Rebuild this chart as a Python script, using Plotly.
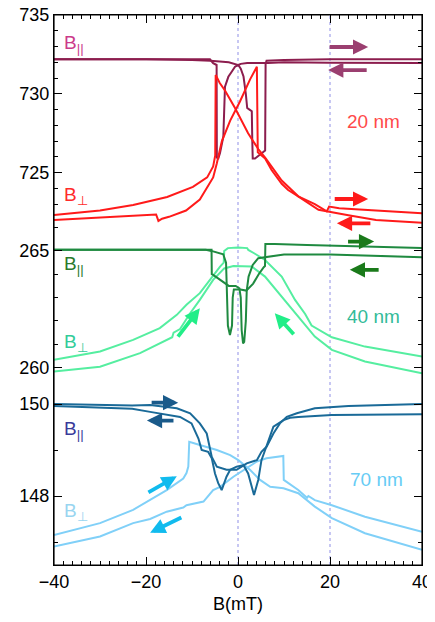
import plotly.graph_objects as go

# ---------------- axes ----------------
x_range = [-40, 40]
x_ticks = [-40, -20, 0, 20, 40]
ref_lines = [0, 20]

top_range = [700.12, 735]
top_major = [725, 730, 735]
top_minor = [723, 724, 726, 727, 728, 729, 731, 732, 733, 734]
mid_range = [251.54, 275.11]
mid_major = [260, 265]
mid_minor = [261, 262, 263, 264, 266]
bot_range = [146.5, 158.46]
bot_major = [148, 150]
bot_minor = [147, 149]

# ---------------- 20 nm ----------------
par20_up_x = [-40, -20, -10, -6.0, -2.0, -0.5, 0.07, 0.6, 1.2, 1.7, 2.0, 2.5, 3.0, 3.1, 3.2, 3.7, 5.9, 6.0, 6.2, 10, 20, 30, 40]
par20_up_y = [732.2, 732.2, 732.15, 732.1, 732.0, 731.9, 731.83, 731.6, 731.1, 730.0, 729.1, 729.0, 728.9, 727.1, 725.9, 725.9, 726.4, 731.9, 732.1, 732.15, 732.2, 732.2, 732.2]
par20_dn_x = [40, 30, 20, 10, 6.5, 2.0, 0.6, 0.07, -0.65, -1.37, -2.1, -2.83, -2.97, -3.19, -3.91, -4.28, -4.6, -4.65, -5.4, -6.1, -10, -20, -40]
par20_dn_y = [731.95, 731.95, 731.97, 732.0, 731.95, 731.95, 731.9, 731.83, 731.72, 731.4, 731.08, 730.45, 729.19, 727.29, 726.25, 725.91, 725.95, 731.83, 731.94, 732.19, 732.2, 732.2, 732.2]
perp20_up_x = [-40, -30, -20, -17.8, -17.3, -16.5, -15, -11.3, -8.3, -7.0, -5.4, -4.6, -3.5, -1.7, 0.4, 2.6, 4.1, 4.3, 5.9, 7.3, 9.5, 10.9, 13.1, 16.7, 19.3, 19.8, 22, 30, 40]
perp20_up_y = [722.0, 722.15, 722.32, 722.35, 721.94, 722.08, 722.2, 722.6, 723.3, 723.9, 724.7, 725.6, 727.0, 728.3, 729.5, 730.9, 731.72, 726.3, 725.9, 725.17, 724.3, 723.9, 723.5, 723.0, 722.55, 722.85, 722.75, 722.6, 722.43]
perp20_dn_x = [40, 30, 24, 20, 17.5, 13.1, 9.5, 5.9, 4.4, 2.2, -0.65, -2.8, -4.0, -4.85, -4.95, -5.4, -6.7, -9.8, -15.4, -22.8, -30, -40]
perp20_dn_y = [721.83, 722.0, 722.3, 722.5, 722.65, 723.5, 724.5, 725.95, 726.5, 727.5, 729.1, 730.2, 730.7, 731.2, 726.1, 725.4, 724.7, 724.1, 723.46, 722.95, 722.6, 722.32]

# ---------------- 40 nm ----------------
par40_up_x = [-40, -20, -7, -5.8, -5.0, -3.2, -2.6, -2.45, -2.2, -1.75, -1.3, -1.15, -0.9, 0.5, 1.8, 3.3, 4.5, 5.6, 5.87, 5.95, 8, 15, 25, 40]
par40_up_y = [265.05, 265.05, 265.05, 265.0, 264.95, 264.85, 264.5, 263.5, 261.8, 261.4, 261.8, 263.0, 263.35, 263.35, 263.3, 263.6, 264.0, 264.3, 264.35, 265.3, 265.3, 265.25, 265.2, 265.12]
par40_dn_x = [40, 30, 20, 10, 6, 4.4, 3.2, 2.3, 1.9, 1.7, 1.35, 1.1, 0.8, 0.6, 0.3, -0.5, -2.0, -3.2, -5.4, -5.7, -5.75, -7, -20, -40]
par40_dn_y = [264.73, 264.8, 264.85, 264.85, 264.75, 264.69, 264.4, 263.9, 263.3, 262.0, 261.1, 261.04, 261.6, 263.0, 263.4, 263.5, 263.5, 263.68, 263.97, 264.0, 265.05, 265.05, 265.05, 265.05]
perp40_lo_x = [-40, -30, -21.3, -15.5, -14.3, -14.0, -12.6, -10.4, -8.3, -5.4, -4.0, -3.0, -1.0, 1.5, 3.0, 5.87, 9.5, 13.8, 16.7, 20.4, 27.6, 40]
perp40_lo_y = [259.83, 260.04, 260.62, 261.19, 261.3, 261.5, 261.65, 262.33, 262.9, 263.76, 264.05, 264.25, 264.35, 264.35, 264.33, 263.9, 263.04, 262.04, 261.33, 260.76, 260.26, 259.76]
perp40_hi_x = [-40, -30, -22.8, -17, -13.3, -11.2, -8.3, -5.4, -3.9, -3.1, -3.0, -2.2, 0, 2.0, 2.24, 3.5, 5.87, 9.5, 12.4, 14.6, 16.0, 20.4, 27.6, 40]
perp40_hi_y = [260.33, 260.69, 261.19, 261.69, 262.26, 262.69, 263.19, 263.97, 264.33, 264.5, 265.0, 265.12, 265.15, 265.12, 265.04, 264.9, 264.61, 263.9, 262.9, 262.3, 261.8, 261.3, 260.9, 260.47]

# ---------------- 70 nm ----------------
par70_a_x = [-40, -23, -19.1, -13.3, -10.4, -8.3, -6.8, -6.1, -5.7, -4.6, -2.5, -0.3, 1.9, 4.1, 5.1, 6.2, 7.7, 9.1, 10.6, 12.8, 16.7, 24, 40]
par70_a_y = [150.0, 149.97, 149.98, 149.91, 149.80, 149.58, 149.36, 149.07, 148.85, 148.64, 148.57, 148.57, 148.71, 148.78, 148.96, 149.07, 149.36, 149.58, 149.72, 149.8, 149.91, 149.96, 150.0]
par70_b_x = [-40, -23, -19.1, -12.6, -10.1, -8.6, -7.9, -6.5, -5.7, -5.0, -4.3, -3.55, -2.5, -1.7, -0.3, 1.2, 2.2, 3.48, 4.4, 5.1, 5.9, 7.7, 9.9, 11.3, 13.1, 20.4, 40]
par70_b_y = [149.96, 149.9, 149.83, 149.72, 149.58, 149.25, 149.0, 148.96, 148.82, 148.49, 148.28, 148.13, 148.42, 148.57, 148.64, 148.67, 148.49, 148.02, 148.35, 148.78, 149.0, 149.51, 149.65, 149.7, 149.72, 149.76, 149.78]
perp70_up_x = [-40, -30, -22.8, -19.1, -15.5, -11.9, -11.2, -7.5, -5.4, -3.9, -1.0, 1.2, 4.1, 6.2, 8.8, 9.85, 9.95, 11.3, 13.1, 15.0, 15.3, 16.7, 20.4, 27.6, 40]
perp70_up_y = [146.9, 147.12, 147.41, 147.5, 147.66, 147.75, 147.8, 147.88, 148.13, 148.2, 148.42, 148.57, 148.75, 148.82, 148.85, 148.87, 148.35, 148.25, 148.13, 147.96, 148.0, 147.91, 147.8, 147.55, 147.22]
perp70_dn_x = [40, 27.6, 20.4, 16.7, 13.1, 9.9, 7.0, 4.8, 2.6, 0.07, -1.7, -4.6, -8.3, -10.6, -10.8, -11.2, -11.9, -15.5, -22.8, -30, -40]
perp70_dn_y = [146.83, 147.19, 147.52, 147.77, 148.06, 148.17, 148.2, 148.35, 148.57, 148.78, 148.89, 149.0, 149.11, 149.18, 148.64, 148.5, 148.38, 148.13, 147.7, 147.41, 147.15]

# ---------------- colours ----------------
c_par20, c_perp20 = "#8c1d4e", "#ff1a1a"
c_par40, c_perp40 = "#1f8a40", "#55eea0"
c_par70, c_perp70 = "#1a6a98", "#80d0f8"

traces = [
    (par20_up_x, par20_up_y, c_par20, "y"),
    (par20_dn_x, par20_dn_y, c_par20, "y"),
    (perp20_up_x, perp20_up_y, c_perp20, "y"),
    (perp20_dn_x, perp20_dn_y, c_perp20, "y"),
    (perp40_lo_x, perp40_lo_y, c_perp40, "y2"),
    (perp40_hi_x, perp40_hi_y, c_perp40, "y2"),
    (par40_up_x, par40_up_y, c_par40, "y2"),
    (par40_dn_x, par40_dn_y, c_par40, "y2"),
    (perp70_up_x, perp70_up_y, c_perp70, "y3"),
    (perp70_dn_x, perp70_dn_y, c_perp70, "y3"),
    (par70_a_x, par70_a_y, c_par70, "y3"),
    (par70_b_x, par70_b_y, c_par70, "y3"),
]

fig = go.Figure()
for xs, ys, col, ax in traces:
    fig.add_trace(go.Scatter(x=xs, y=ys, mode="lines", yaxis=ax,
                             line=dict(color=col, width=2),
                             hoverinfo="skip", showlegend=False))

# ---------------- labels ----------------
label_x = -38.3
labels = [
    ("B<sub>||</sub>", label_x, 733.19, "y", "#cc3a8a", "left"),
    ("B<sub>⊥</sub>", label_x, 723.5, "y", "#ff2a2a", "left"),
    ("20 nm", 29.5, 728.23, "y", "#ff4a4a", "center"),
    ("B<sub>||</sub>", label_x, 264.4, "y2", "#2a7a2a", "left"),
    ("B<sub>⊥</sub>", label_x, 261.06, "y2", "#33cc99", "left"),
    ("40 nm", 29.5, 262.18, "y2", "#33bb99", "center"),
    ("B<sub>||</sub>", label_x, 149.43, "y3", "#3a3a9a", "left"),
    ("B<sub>⊥</sub>", label_x, 147.65, "y3", "#99d5f0", "left"),
    ("70 nm", 30.1, 148.37, "y3", "#66ccf5", "center"),
]
annotations = []
for txt, lx, ly, ax, col, anc in labels:
    annotations.append(dict(text=txt, x=lx, y=ly, xref="x", yref=ax, showarrow=False,
                            xanchor=anc, yanchor="middle",
                            font=dict(size=19, color=col, family="Liberation Sans, Arial")))

# arrows: (tail_x, tail_y, head_x, head_y, axis, colour)
arrows = [
    (19.6, 732.97, 28.3, 732.97, "y", "#9b3f70"),
    (28.3, 731.51, 19.6, 731.51, "y", "#9b3f70"),
    (20.7, 723.33, 28.3, 723.33, "y", "#ff1a1a"),
    (29.1, 721.79, 21.5, 721.79, "y", "#ff1a1a"),
    (23.6, 265.4, 29.6, 265.4, "y2", "#1a7a1a"),
    (30.9, 264.19, 24.3, 264.19, "y2", "#1a7a1a"),
    (-13.3, 261.26, -8.3, 262.54, "y2", "#22ee88"),
    (12.4, 261.36, 8.0, 262.33, "y2", "#22ee88"),
    (-19.1, 150.03, -13.0, 150.03, "y3", "#1a5a8a"),
    (-13.7, 149.64, -19.8, 149.64, "y3", "#1a5a8a"),
    (-19.8, 148.06, -13.3, 148.43, "y3", "#11bbee"),
    (-12.0, 147.55, -19.1, 147.2, "y3", "#11bbee"),
]
for tx, ty, hx, hy, ax, col in arrows:
    annotations.append(dict(x=hx, y=hy, ax=tx, ay=ty, xref="x", yref=ax, axref="x", ayref=ax,
                            text="", showarrow=True, arrowhead=2, arrowsize=0.8,
                            arrowwidth=3.8, arrowcolor=col))

shapes = [dict(type="line", xref="x", yref="paper", x0=v, x1=v, y0=0, y1=1,
               line=dict(color="#8f8fe6", width=1, dash="dot"), layer="below")
          for v in ref_lines]
# plot frame
shapes.append(dict(type="rect", xref="paper", yref="paper", x0=0, x1=1, y0=0, y1=1,
                   line=dict(color="black", width=1.2), fillcolor="rgba(0,0,0,0)",
                   layer="above"))

tickfont = dict(family="Liberation Sans, Arial", size=18, color="black")

def yax(rng, major, minor, **kw):
    d = dict(range=rng, tickmode="array", tickvals=major, ticks="inside", ticklen=8,
             tickwidth=1, tickcolor="black", showline=True, linecolor="black", linewidth=1.2,
             mirror="ticks", showgrid=False, zeroline=False, tickfont=tickfont,
             automargin=False, ticklabeloverflow="allow",
             minor=dict(tickmode="array", tickvals=minor, ticks="inside", ticklen=4,
                        tickcolor="black"), domain=[0, 1], anchor="x", side="left")
    d.update(kw)
    return d

# the page body adds an 8px offset; the figure is sized so the plot area
# lands at the same place as in the reference
fig.update_layout(
    width=427, height=614,
    margin=dict(l=46, r=13, t=7, b=57, autoexpand=False),
    plot_bgcolor="white", paper_bgcolor="white",
    showlegend=False,
    font=dict(family="Liberation Sans, Arial", size=18, color="black"),
    xaxis=dict(range=x_range, tickmode="array", tickvals=x_ticks, ticks="inside", ticklen=8,
               tickwidth=1, tickcolor="black", showline=True, linecolor="black", linewidth=1.2,
               mirror="ticks", showgrid=False, zeroline=False, tickfont=tickfont,
               automargin=False, ticklabeloverflow="allow",
               minor=dict(dtick=2, tick0=0, ticks="inside", ticklen=4, tickcolor="black"),
               title=dict(text="B(mT)", font=tickfont, standoff=6)),
    yaxis=yax(top_range, top_major, top_minor),
    yaxis2=yax(mid_range, mid_major, mid_minor, overlaying="y"),
    yaxis3=yax(bot_range, bot_major, bot_minor, overlaying="y"),
    annotations=annotations,
    shapes=shapes,
)

fig.write_html("out.html")
